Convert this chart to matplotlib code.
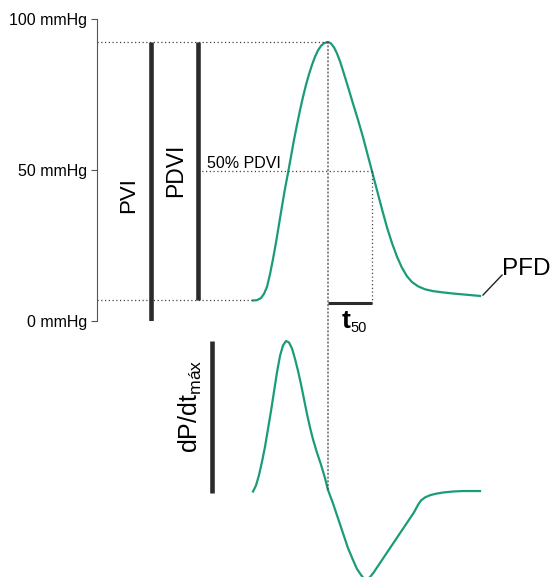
import matplotlib.pyplot as plt
from matplotlib.patches import ConnectionPatch

plt.rcParams['font.family'] = ['Liberation Sans', 'DejaVu Sans']

# presion intraventricular (mmHg) vs tiempo (ms)
t_pres = [0, 4, 8, 11, 14, 17, 20, 23, 26, 29, 32, 35, 38, 41, 44, 47, 50, 53, 56, 59, 62, 65,
          68, 71, 75, 78, 81, 84, 87, 90, 95, 100, 105, 110, 115, 119, 124, 129, 134, 139, 144,
          149, 154, 159, 165, 172, 180, 189, 200, 210, 220, 227]
pres = [6.8, 6.9, 7.6, 9.0, 11.3, 15.5, 20.5, 26.0, 32.0, 38.0, 43.8, 49.0, 54.5, 60.0, 65.0,
        69.8, 74.2, 78.2, 81.7, 84.8, 87.5, 89.6, 91.1, 92.0, 92.4, 91.9, 90.6, 88.6, 86.0, 82.9,
        77.5, 72.0, 66.6, 60.9, 54.6, 49.6, 43.3, 37.0, 31.0, 25.8, 21.3, 17.6, 14.8, 12.9, 11.5,
        10.5, 9.9, 9.5, 9.1, 8.8, 8.5, 8.3]

# dP/dt normalizado (1 = dP/dt max)
t_dpdt = [0, 3, 6, 9, 12, 15, 18, 21, 24, 27, 30, 33, 36, 39, 42, 45, 48, 51, 54, 57, 60, 64,
          68, 72, 75, 80, 85, 90, 95, 100, 104, 108, 111, 114, 117, 121, 126, 131, 136, 141,
          146, 151, 156, 161, 165, 168, 172, 177, 183, 190, 200, 210, 227]
dpdt = [-0.01, 0.03, 0.10, 0.19, 0.29, 0.41, 0.53, 0.66, 0.79, 0.90, 0.97, 1.0, 0.99, 0.95,
        0.88, 0.80, 0.71, 0.61, 0.51, 0.42, 0.34, 0.25, 0.17, 0.08, 0.0, -0.09, -0.19, -0.29,
        -0.39, -0.47, -0.53, -0.57, -0.595, -0.60, -0.585, -0.55, -0.50, -0.45, -0.40, -0.35,
        -0.30, -0.25, -0.20, -0.15, -0.10, -0.07, -0.05, -0.035, -0.025, -0.017, -0.01, -0.007, -0.007]

p_max = 92.4
p_base = 6.8
p_50 = (p_max + p_base) / 2
t_peak = 75
t_50 = 119
yticks = [0, 50, 100]
ylabels = ['0 mmHg', '50 mmHg', '100 mmHg']

verde = '#1b9c78'
gris = '#2b2b2b'
punteado = dict(color='#444444', lw=0.9, linestyle=(0, (1, 2)))

fig = plt.figure(figsize=(5.52, 5.77), dpi=100)

# eje de presion
ax = fig.add_axes([97 / 552, 256 / 577, 455 / 552, 302 / 577])
ax.set_xlim(-156, 299)
ax.set_ylim(0, 100)
for s in ['top', 'right', 'bottom']:
    ax.spines[s].set_visible(False)
ax.spines['left'].set_color('#555555')
ax.spines['left'].set_linewidth(0.8)
ax.set_xticks([])
ax.set_yticks(yticks)
ax.set_yticklabels(ylabels, fontsize=11.5)
ax.tick_params(axis='y', length=4, width=0.8, pad=3, color='#555555')
ax.patch.set_alpha(0)

ax.plot(t_pres, pres, color=verde, lw=1.6, clip_on=False)

# lineas punteadas
ax.plot([-156, t_peak], [p_max, p_max], **punteado)
ax.plot([-156, 0], [p_base, p_base], **punteado)
ax.plot([-55, t_50], [p_50, p_50], **punteado)
ax.plot([t_50, t_50], [p_50, p_base - 0.8], **punteado)

# barras PVI y PDVI
ax.vlines(-102, 0, p_max, color=gris, lw=3.3)
ax.vlines(-55, p_base, p_max, color=gris, lw=3.3)
ax.text(-124, 41.7, 'PVI', rotation=90, ha='center', va='center', fontsize=16)
ax.text(-77, 50, 'PDVI', rotation=90, ha='center', va='center', fontsize=16.5)
ax.text(-46, 50.7, '50% PDVI', ha='left', va='baseline', fontsize=11.5)

# t50
ax.plot([t_peak, t_50], [p_base - 0.8, p_base - 0.8], color=gris, lw=2.2, clip_on=False, solid_capstyle='butt')
ax.text(89, -2.3, 't', ha='left', va='baseline', fontsize=19, fontweight='bold', clip_on=False)
ax.text(97, -3.6, '50', ha='left', va='baseline', fontsize=10.5, clip_on=False)

# PFD
ax.plot([230, 249], [8.6, 15.2], color='#222222', lw=1.0)
ax.text(249, 15.2, 'PFD', ha='left', va='baseline', fontsize=17.5)

# eje dP/dt
ax2 = fig.add_axes([97 / 552, 0, 455 / 552, 1])
ax2.set_xlim(-156, 299)
ax2.set_ylim(-0.584, 3.289)
ax2.axis('off')
ax2.plot(t_dpdt, dpdt, color=verde, lw=1.6)
ax2.vlines(-41, -0.02, 1.0, color=gris, lw=3.3)
ax2.text(-63, 0.56, r'dP/dt$_{\mathregular{máx}}$', rotation=90, ha='center', va='center', fontsize=18)

con = ConnectionPatch(xyA=(t_peak, p_max), coordsA=ax.transData,
                      xyB=(t_peak, 0), coordsB=ax2.transData, **punteado)
fig.add_artist(con)

fig.savefig('out.png', dpi=100)
